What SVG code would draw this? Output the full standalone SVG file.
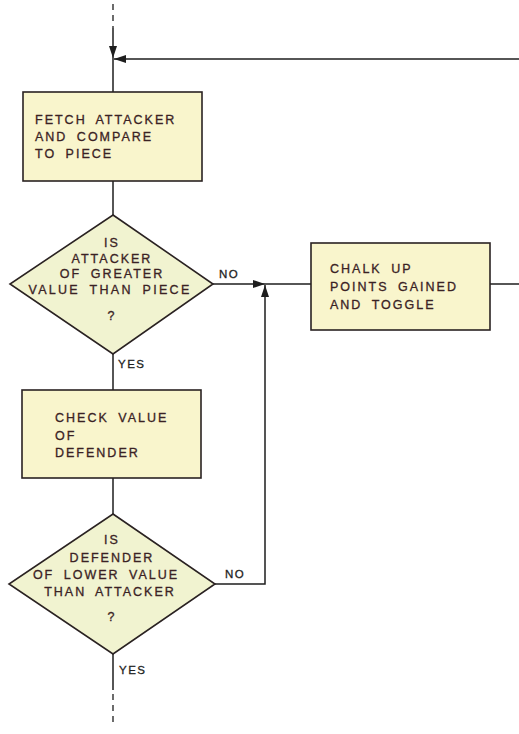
<svg xmlns="http://www.w3.org/2000/svg" width="519" height="734" viewBox="0 0 519 734">
<style>
.box{fill:#f9f5cc;stroke:#2a2222;stroke-width:1.6}
.dia{fill:#f1f3d0;stroke:#2a2222;stroke-width:1.6}
.ln{fill:none;stroke:#1e1e1e;stroke-width:1.5}
.dash{fill:none;stroke:#1e1e1e;stroke-width:1.3;stroke-dasharray:6 5}
text{font-family:"Liberation Sans",Arial,sans-serif;font-size:12.5px;letter-spacing:2px;word-spacing:4px;fill:#3a2224;stroke:#3a2224;stroke-width:0.3}
.c{text-anchor:middle}
.w{letter-spacing:2.3px;word-spacing:4px}
.lbl{font-size:11.5px;letter-spacing:1.5px;word-spacing:0;fill:#1e1e1e;stroke:#1e1e1e}
</style>
<defs>
<marker id="ah" viewBox="0 0 12 8" refX="12" refY="4" markerWidth="12" markerHeight="8" markerUnits="userSpaceOnUse" orient="auto">
<path d="M0,0 L12,4 L0,8 Z" fill="#1e1e1e"/>
</marker>
</defs>
<g id="connectors">
<path class="dash" d="M113,4 V28"/>
<path class="ln" d="M113,28 V58" marker-end="url(#ah)"/>
<path class="ln" d="M113,58 V92"/>
<path class="ln" d="M519,59 H114" marker-end="url(#ah)"/>
<path class="ln" d="M113,181 V215"/>
<path class="ln" d="M213,284 H265" marker-end="url(#ah)"/>
<path class="ln" d="M265,284 H311"/>
<path class="ln" d="M490,284 H519"/>
<path class="ln" d="M113,354 V390"/>
<path class="ln" d="M113,478 V514"/>
<path class="ln" d="M215,584 H265 V285" marker-end="url(#ah)"/>
<path class="ln" d="M113,654 V690"/>
<path class="dash" d="M113,694 V724"/>
<text class="lbl" x="219" y="278">NO</text>
<text class="lbl" x="118" y="368">YES</text>
<text class="lbl" x="225" y="578">NO</text>
<text class="lbl" x="119" y="674">YES</text>
</g>
<g id="fetch">
<rect class="box" x="23" y="92" width="179" height="89"/>
<text x="35" y="124">FETCH ATTACKER</text>
<text x="35" y="141">AND COMPARE</text>
<text x="35" y="158">TO PIECE</text>
</g>
<g id="decision1">
<polygon class="dia" points="113,215 213,284 113,354 10,284"/>
<text class="c" x="112" y="247">IS</text>
<text class="c" x="112" y="263">ATTACKER</text>
<text class="c" x="112" y="278">OF GREATER</text>
<text class="c w" x="110" y="294">VALUE THAN PIECE</text>
<text class="c" x="112" y="320">?</text>
</g>
<g id="chalk">
<rect class="box" x="311" y="243" width="179" height="87"/>
<text x="330" y="273">CHALK UP</text>
<text x="330" y="291">POINTS GAINED</text>
<text x="330" y="309">AND TOGGLE</text>
</g>
<g id="check">
<rect class="box" x="22" y="390" width="179" height="88"/>
<text x="55" y="422">CHECK VALUE</text>
<text x="55" y="440">OF</text>
<text x="55" y="457">DEFENDER</text>
</g>
<g id="decision2">
<polygon class="dia" points="113,514 215,584 113,654 9,584"/>
<text class="c" x="112" y="544">IS</text>
<text class="c" x="112" y="562">DEFENDER</text>
<text class="c" x="106" y="579">OF LOWER VALUE</text>
<text class="c" x="110" y="596">THAN ATTACKER</text>
<text class="c" x="112" y="621">?</text>
</g>
</svg>
